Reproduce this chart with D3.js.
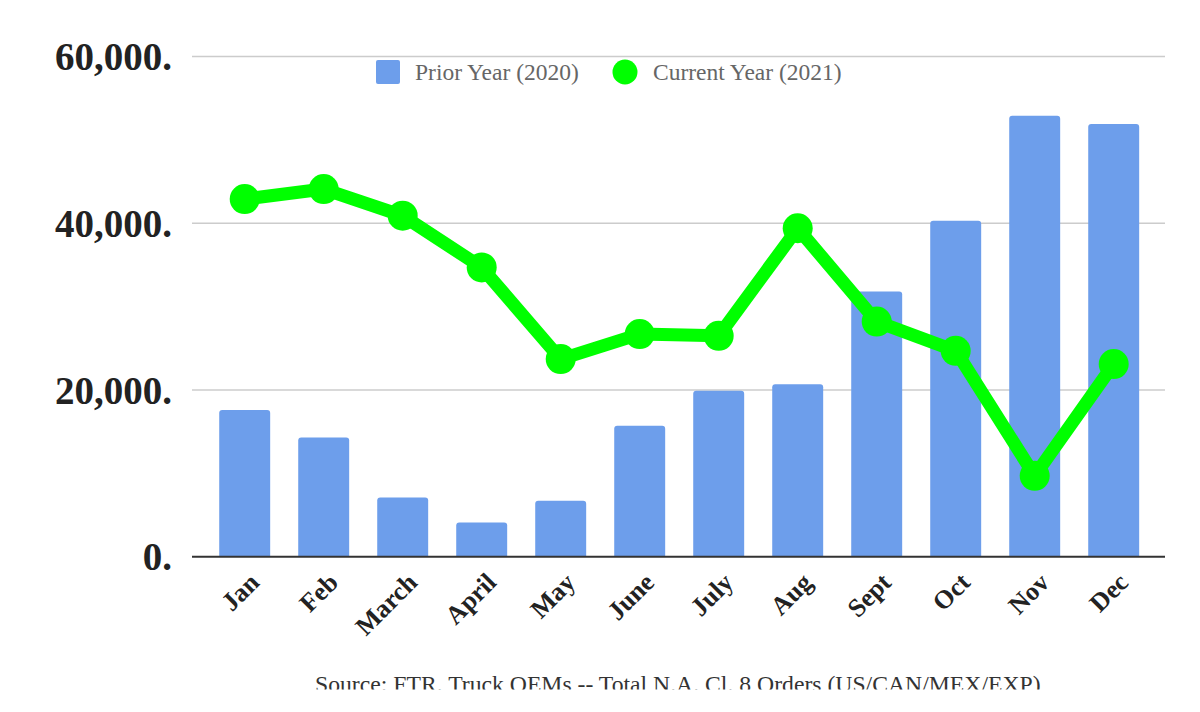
<!DOCTYPE html>
<html>
<head>
<meta charset="utf-8">
<script src="https://cdn.jsdelivr.net/npm/d3@7"></script>
<style>
  html, body { margin: 0; padding: 0; background: #fff; }
  svg { display: block; }
</style>
</head>
<body>
<svg id="chart" width="1200" height="712"></svg>
<script>
const months = ["Jan","Feb","March","April","May","June","July","Aug","Sept","Oct","Nov","Dec"];
const prior2020 = [17600, 14300, 7100, 4100, 6700, 15700, 19900, 20700, 31800, 40300, 52900, 51900];
const current2021 = [42900, 44100, 40900, 34700, 23700, 26700, 26500, 39400, 28200, 24700, 9700, 23100];
const yTicks = [0, 20000, 40000, 60000];
const yTickLabels = ["0.", "20,000.", "40,000.", "60,000."];
const legendLabels = ["Prior Year (2020)", "Current Year (2021)"];
const sourceText = "Source: FTR. Truck OEMs -- Total N.A. Cl. 8 Orders (US/CAN/MEX/EXP)";

const svg = d3.select("#chart");
const serif = "'Liberation Serif', 'Times New Roman', serif";

const x = d3.scaleBand().domain(months).range([205.2, 1153.2]).paddingInner(0.355).paddingOuter(0.1775);
const y = d3.scaleLinear().domain([0, 60000]).range([556.7, 56.5]);
const gridX0 = 192, gridX1 = 1165;

// gridlines
svg.append("g").selectAll("line").data(yTicks.filter(d => d > 0)).join("line")
  .attr("x1", gridX0).attr("x2", gridX1)
  .attr("y1", d => y(d)).attr("y2", d => y(d))
  .attr("stroke", "#cccccc").attr("stroke-width", 1.5);

// y labels
svg.append("g").selectAll("text").data(yTicks).join("text")
  .attr("x", 172).attr("y", d => y(d) + 13.6)
  .attr("text-anchor", "end")
  .attr("font-family", serif).attr("font-weight", "bold").attr("font-size", 39)
  .attr("fill", "#222")
  .text((d, i) => yTickLabels[i]);

// bars with rounded top corners
const r = 3;
svg.append("g").selectAll("path").data(prior2020).join("path")
  .attr("d", (d, i) => {
    const x0 = x(months[i]), w = x.bandwidth(), y0 = y(d), yb = y(0);
    return `M${x0},${yb}V${y0 + r}Q${x0},${y0} ${x0 + r},${y0}H${x0 + w - r}Q${x0 + w},${y0} ${x0 + w},${y0 + r}V${yb}Z`;
  })
  .attr("fill", "#6d9eeb");

// baseline
svg.append("line").attr("x1", gridX0).attr("x2", gridX1)
  .attr("y1", y(0)).attr("y2", y(0))
  .attr("stroke", "#333").attr("stroke-width", 2);

// line
const cx = i => x(months[i]) + x.bandwidth() / 2;
const line = d3.line().x((d, i) => cx(i)).y(d => y(d));
svg.append("path").datum(current2021)
  .attr("d", line).attr("fill", "none")
  .attr("stroke", "#00ff00").attr("stroke-width", 13)
  .attr("stroke-linejoin", "round").attr("stroke-linecap", "round");
svg.append("g").selectAll("circle").data(current2021).join("circle")
  .attr("cx", (d, i) => cx(i)).attr("cy", d => y(d)).attr("r", 15)
  .attr("fill", "#00ff00");

// x labels
svg.append("g").selectAll("text").data(months).join("text")
  .attr("transform", d => `translate(${x(d) + x.bandwidth() / 2 + 16},584) rotate(-45)`)
  .attr("text-anchor", "end")
  .attr("font-family", serif).attr("font-weight", "bold").attr("font-size", 26)
  .attr("fill", "#222")
  .text(d => d);

// legend
const lg = svg.append("g").attr("font-family", serif).attr("font-size", 23.5).attr("fill", "#666");
lg.append("rect").attr("x", 376).attr("y", 60).attr("width", 24).attr("height", 24).attr("rx", 2).attr("fill", "#6d9eeb");
lg.append("text").attr("x", 415).attr("y", 79.5).text(legendLabels[0]);
lg.append("circle").attr("cx", 625).attr("cy", 72).attr("r", 12.5).attr("fill", "#00ff00");
lg.append("text").attr("x", 653).attr("y", 79.5).text(legendLabels[1]);

// source (clipped at bottom like the reference)
svg.append("clipPath").attr("id", "srcclip").append("rect")
  .attr("x", 0).attr("y", 600).attr("width", 1200).attr("height", 89.5);
svg.append("text").attr("clip-path", "url(#srcclip)")
  .attr("x", 315).attr("y", 692)
  .attr("font-family", serif).attr("font-size", 23.7).attr("fill", "#333")
  .text(sourceText);
</script>
</body>
</html>
